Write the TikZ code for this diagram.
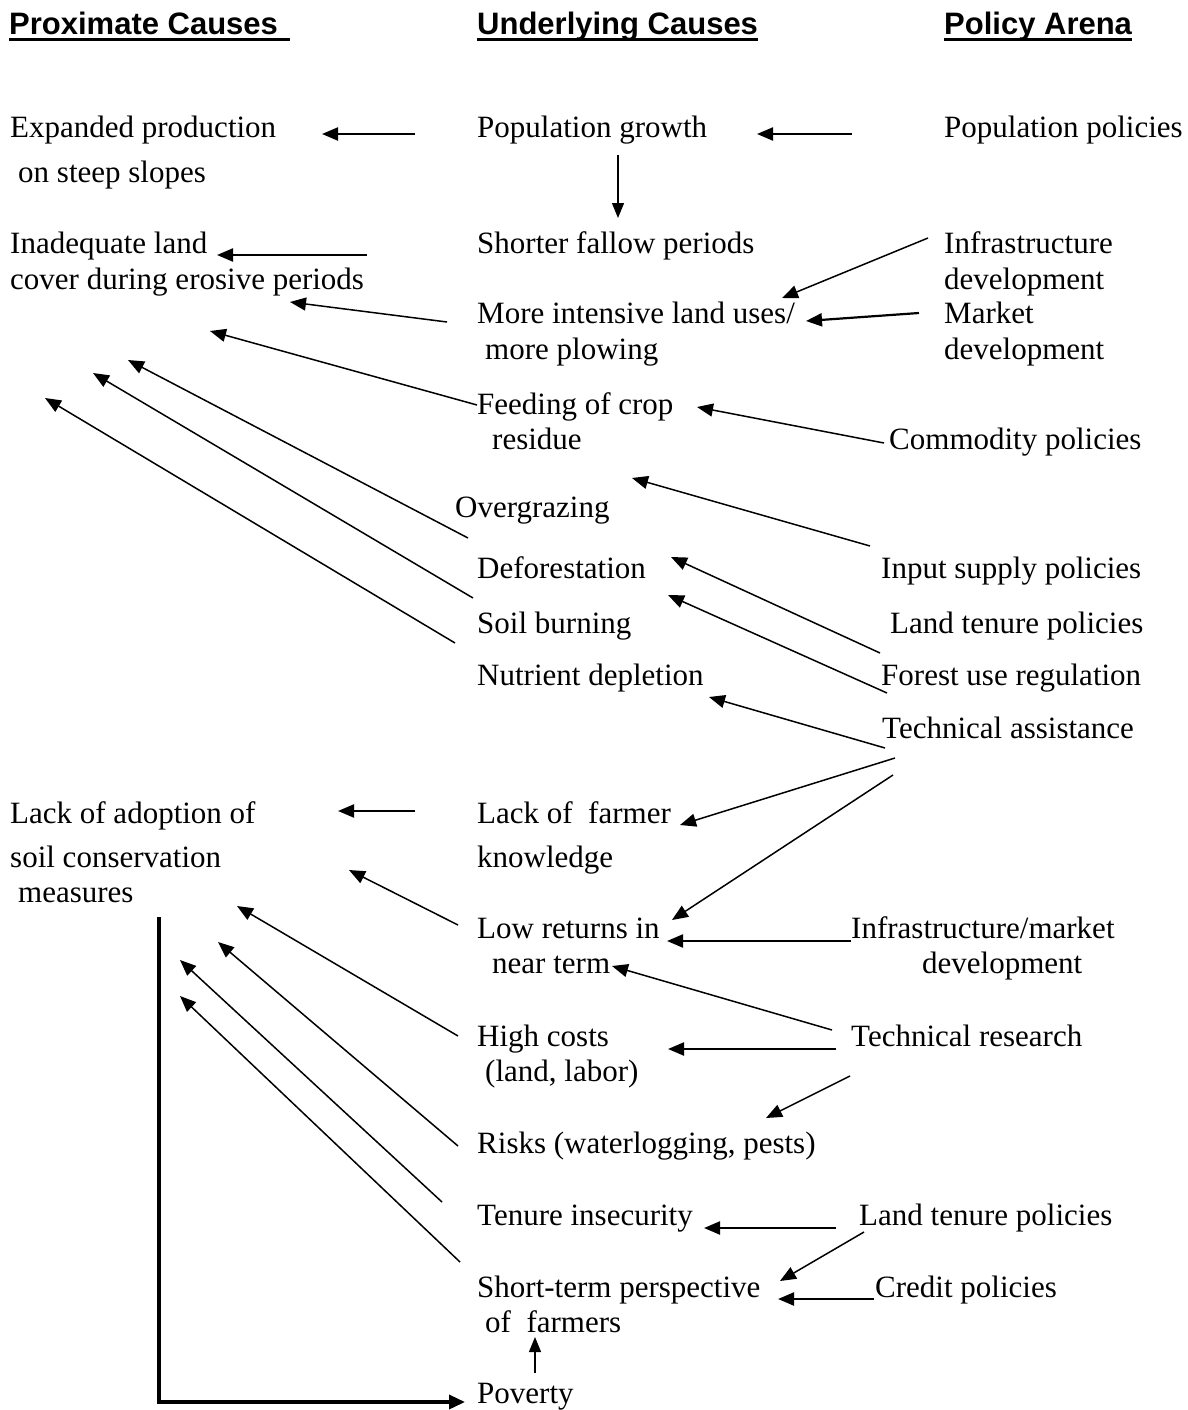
\documentclass[tikz,border=0pt]{standalone}
\usepackage{fontspec}
\setmainfont{Liberation Serif}
\newfontfamily\headfont{Liberation Sans}
\usetikzlibrary{arrows.meta}
\begin{document}
\begin{tikzpicture}[x=1pt,y=-1pt,
  txt/.style={anchor=base west, inner sep=0pt, font=\fontsize{31}{36}\selectfont},
  hd/.style={anchor=base west, inner sep=0pt, font=\headfont\bfseries\fontsize{31}{36}\selectfont},
  ul/.style={line width=3pt},
  ar/.style={-{Triangle[length=16pt,width=13pt]}, line width=1.5pt},
  arT/.style={ar, line width=2.2pt},
  arS/.style={-{Triangle[length=15pt,width=12pt]}, line width=1.2pt},
  brk/.style={-{Triangle[length=16pt,width=14pt]}, line width=3.5pt},
]
\useasboundingbox (0,0) rectangle (1187,1410);

% headings
\node[hd] (hP) at (9,35) {Proximate Causes};
\node[hd] (hU) at (477,35) {Underlying Causes};
\node[hd] (hA) at (944,35) {Policy Arena};
\coordinate (hPend) at (290,40);
\draw[ul] ([yshift=-5pt]hP.base west) -- (hPend);
\draw[ul] ([yshift=-5pt]hU.base west) -- ([yshift=-5pt]hU.base east);
\draw[ul] ([yshift=-5pt]hA.base west) -- ([yshift=-5pt]hA.base east);

% proximate causes
\node[txt] (exp1) at (10,138) {Expanded production};
\node[txt] (exp2) at (18,182) {on steep slopes};
\node[txt] (inad1) at (10,253) {Inadequate land};
\node[txt] (inad2) at (10,289) {cover during erosive periods};
\node[txt] (lack1) at (10,823) {Lack of adoption of};
\node[txt] (lack2) at (10,867) {soil conservation};
\node[txt] (lack3) at (18,902) {measures};

% underlying causes
\node[txt] (popg) at (477,138) {Population growth};
\node[txt] (short) at (477,253) {Shorter fallow periods};
\node[txt] (more1) at (477,323) {More intensive land uses/};
\node[txt] (more2) at (485,359) {more plowing};
\node[txt] (feed1) at (477,414) {Feeding of crop};
\node[txt] (feed2) at (492,449) {residue};
\node[txt] (over) at (455,517) {Overgrazing};
\node[txt] (defo) at (477,578) {Deforestation};
\node[txt] (soil) at (477,633) {Soil burning};
\node[txt] (nutr) at (477,685) {Nutrient depletion};
\node[txt] (know1) at (477,823) {Lack of~~farmer};
\node[txt] (know2) at (477,867) {knowledge};
\node[txt] (low1) at (477,938) {Low returns in};
\node[txt] (low2) at (492,973) {near term};
\node[txt] (cost1) at (477,1046) {High costs};
\node[txt] (cost2) at (485,1081) {(land, labor)};
\node[txt] (risk) at (477,1153) {Risks (waterlogging, pests)};
\node[txt] (ten) at (477,1225) {Tenure insecurity};
\node[txt] (stp1) at (477,1297) {Short-term perspective};
\node[txt] (stp2) at (485,1332) {of~~farmers};
\node[txt] (pov) at (477,1403) {Poverty};

% policy arena
\node[txt] (popp) at (944,138) {Population policies};
\node[txt] (infra1) at (944,253) {Infrastructure};
\node[txt] (infra2) at (944,289) {development};
\node[txt] (mkt1) at (944,323) {Market};
\node[txt] (mkt2) at (944,359) {development};
\node[txt] (comm) at (889,449) {Commodity policies};
\node[txt] (inp) at (881,578) {Input supply policies};
\node[txt] (lt) at (890,633) {Land tenure policies};
\node[txt] (forest) at (881,685) {Forest use regulation};
\node[txt] (tech) at (882,738) {Technical assistance};
\node[txt] (im1) at (851,938) {Infrastructure/market};
\node[txt] (im2) at (922,973) {development};
\node[txt] (tres) at (851,1046) {Technical research};
\node[txt] (lt2) at (859,1225) {Land tenure policies};
\node[txt] (cred) at (875,1297) {Credit policies};

% connector end points
\coordinate (a1t) at (415,134);  \coordinate (a1h) at (322,134);
\coordinate (a2t) at (852,134);  \coordinate (a2h) at (757,134);
\coordinate (a3t) at (618,155);  \coordinate (a3h) at (618,218);
\coordinate (a4t) at (367,255);  \coordinate (a4h) at (217,255);
\coordinate (a5t) at (928,238);  \coordinate (a5h) at (782,298);
\coordinate (a6t) at (919,313);  \coordinate (a6h) at (806,321);
\coordinate (a7t) at (447,322);  \coordinate (a7h) at (290,302);
\coordinate (a8t) at (477,405);  \coordinate (a8h) at (210,331);
\coordinate (a9t) at (884,443);  \coordinate (a9h) at (697,407);
\coordinate (b1t) at (468,538);  \coordinate (b1h) at (128,360);
\coordinate (b2t) at (473,598);  \coordinate (b2h) at (93,373);
\coordinate (b3t) at (455,643);  \coordinate (b3h) at (45,398);
\coordinate (c1t) at (870,546);  \coordinate (c1h) at (632,478);
\coordinate (c2t) at (880,653);  \coordinate (c2h) at (671,557);
\coordinate (c3t) at (887,693);  \coordinate (c3h) at (668,595);
\coordinate (d1t) at (885,748);  \coordinate (d1h) at (709,697);
\coordinate (d2t) at (895,758);  \coordinate (d2h) at (680,825);
\coordinate (d3t) at (893,775);  \coordinate (d3h) at (672,920);
\coordinate (e1t) at (415,811);  \coordinate (e1h) at (338,811);
\coordinate (e2t) at (458,925);  \coordinate (e2h) at (349,870);
\coordinate (e3t) at (458,1036); \coordinate (e3h) at (237,906);
\coordinate (e4t) at (458,1146); \coordinate (e4h) at (218,942);
\coordinate (e5t) at (442,1202); \coordinate (e5h) at (180,960);
\coordinate (e6t) at (460,1262); \coordinate (e6h) at (180,996);
\coordinate (f1t) at (851,941);  \coordinate (f1h) at (667,941);
\coordinate (f2t) at (832,1030); \coordinate (f2h) at (612,966);
\coordinate (f3t) at (836,1049); \coordinate (f3h) at (668,1049);
\coordinate (f4t) at (850,1076); \coordinate (f4h) at (766,1118);
\coordinate (g1t) at (836,1228); \coordinate (g1h) at (704,1228);
\coordinate (g2t) at (864,1232); \coordinate (g2h) at (780,1281);
\coordinate (g3t) at (874,1299); \coordinate (g3h) at (778,1299);
\coordinate (h1t) at (535,1373); \coordinate (h1h) at (535,1337);
\coordinate (k1) at (159,917); \coordinate (k2) at (159,1402); \coordinate (k3) at (465,1402);

% connectors
\draw[arT] (a1t) -- (a1h);
\draw[arT] (a2t) -- (a2h);
\draw[arS] (a3t) -- (a3h);
\draw[arT] (a4t) -- (a4h);
\draw[ar] (a5t) -- (a5h);
\draw[arT] (a6t) -- (a6h);
\draw[ar] (a7t) -- (a7h);
\draw[ar] (a8t) -- (a8h);
\draw[ar] (a9t) -- (a9h);
\draw[ar] (b1t) -- (b1h);
\draw[ar] (b2t) -- (b2h);
\draw[ar] (b3t) -- (b3h);
\draw[ar] (c1t) -- (c1h);
\draw[ar] (c2t) -- (c2h);
\draw[ar] (c3t) -- (c3h);
\draw[ar] (d1t) -- (d1h);
\draw[ar] (d2t) -- (d2h);
\draw[ar] (d3t) -- (d3h);
\draw[arT] (e1t) -- (e1h);
\draw[ar] (e2t) -- (e2h);
\draw[ar] (e3t) -- (e3h);
\draw[ar] (e4t) -- (e4h);
\draw[ar] (e5t) -- (e5h);
\draw[ar] (e6t) -- (e6h);
\draw[arT] (f1t) -- (f1h);
\draw[ar] (f2t) -- (f2h);
\draw[arT] (f3t) -- (f3h);
\draw[ar] (f4t) -- (f4h);
\draw[arT] (g1t) -- (g1h);
\draw[ar] (g2t) -- (g2h);
\draw[arT] (g3t) -- (g3h);
\draw[arS] (h1t) -- (h1h);
\draw[brk] (k1) -- (k2) -- (k3);
\end{tikzpicture}
\end{document}
